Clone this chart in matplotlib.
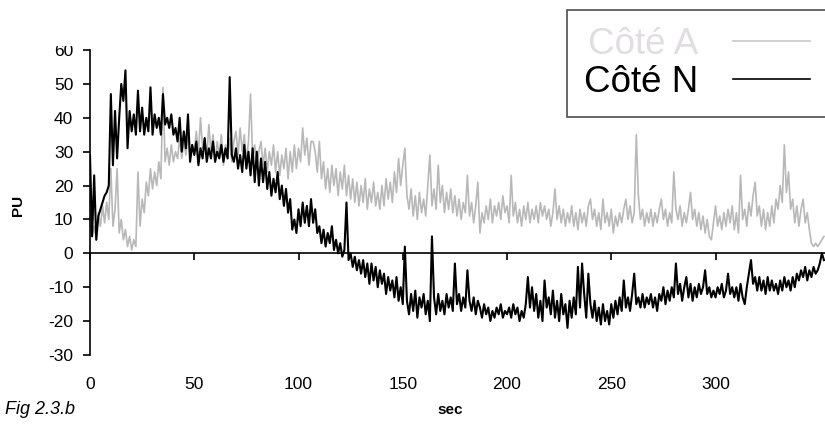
import matplotlib
matplotlib.use("Agg")
import matplotlib.pyplot as plt
import numpy as np
from matplotlib.lines import Line2D
from matplotlib.patches import Rectangle

plt.rcParams["font.family"] = ["Liberation Sans", "DejaVu Sans"]
plt.rcParams["axes.unicode_minus"] = False

cote_n = [
    29, 5, 23, 4, 11, 13, 15, 17, 18, 20,
    47, 26, 42, 28, 40, 50, 45, 54, 31, 42,
    36, 41, 35, 48, 36, 43, 35, 40, 36, 49,
    35, 41, 37, 40, 35, 47, 38, 40, 37, 41,
    35, 37, 33, 40, 30, 36, 31, 41, 27, 32,
    29, 33, 26, 31, 28, 34, 27, 31, 28, 33,
    27, 30, 28, 32, 27, 31, 28, 52, 29, 27,
    31, 25, 29, 24, 32, 25, 30, 23, 31, 21,
    30, 20, 28, 21, 27, 19, 24, 17, 22, 18,
    24, 16, 20, 14, 19, 12, 16, 7, 10, 6,
    13, 8, 15, 9, 14, 8, 16, 9, 13, 6,
    8, 3, 7, 2, 6, 3, 8, 1, 4, 0,
    3, -1, 1, 15, -2, 0, -4, -1, -5, -2,
    -6, -2, -7, -3, -9, -3, -8, -4, -10, -5,
    -9, -6, -12, -7, -11, -8, -13, -7, -14, -10,
    -15, 2, -14, -18, -12, -17, -11, -19, -13, -16,
    -12, -18, -14, -20, 5, -13, -18, -12, -17, -14,
    -18, -12, -16, -13, -17, -3, -15, -12, -17, -13,
    -16, -5, -14, -17, -13, -18, -14, -16, -19, -15,
    -18, -16, -20, -17, -19, -16, -18, -15, -19, -17,
    -18, -16, -19, -15, -18, -16, -20, -17, -19, -15,
    -7, -16, -10, -17, -12, -19, -14, -20, -8, -16,
    -13, -18, -11, -19, -14, -20, -12, -18, -15, -22,
    -14, -19, -13, -18, -4, -16, -3, -12, -19, -6,
    -15, -19, -14, -20, -16, -21, -15, -20, -17, -21,
    -15, -19, -14, -18, -13, -17, -8, -16, -13, -17,
    -12, -6, -15, -13, -16, -12, -16, -13, -15, -12,
    -16, -13, -17, -12, -14, -10, -15, -11, -14, -10,
    -13, -3, -12, -9, -14, -10, -7, -13, -9, -14,
    -10, -13, -9, -12, -10, -5, -12, -10, -13, -11,
    -13, -10, -12, -9, -13, -11, -6, -12, -10, -13,
    -10, -14, -9, -13, -15, -10, -6, -2, -9, -7,
    -11, -7, -11, -8, -12, -7, -11, -8, -11, -9,
    -12, -8, -11, -7, -10, -8, -11, -7, -10, -6,
    -8, -5, -7, -4, -8, -5, -7, -4, -6, -5,
    -3, 0, -2,
]

cote_a = [
    10, 5, 8, 4, 12, 8, 14, 9, 15, 10,
    25, 8, 13, 25, 6, 10, 4, 7, 2, 5,
    1, 4, 2, 24, 8, 16, 12, 21, 17, 25,
    19, 24, 20, 27, 22, 49, 27, 31, 26, 32,
    27, 30, 28, 34, 28, 33, 29, 35, 28, 32,
    30, 36, 29, 40, 31, 34, 28, 38, 30, 35,
    27, 33, 29, 35, 26, 32, 28, 34, 27, 33,
    36, 29, 37, 30, 35, 27, 33, 47, 28, 32,
    25, 30, 33, 26, 31, 24, 30, 26, 32, 24,
    30, 23, 29, 25, 31, 22, 30, 24, 32, 25,
    31, 27, 37, 29, 34, 26, 33, 33, 30, 24,
    33, 22, 27, 19, 25, 18, 26, 20, 25, 17,
    24, 19, 26, 17, 23, 16, 22, 15, 21, 14,
    20, 15, 22, 13, 19, 15, 21, 14, 18, 13,
    20, 14, 22, 16, 21, 15, 24, 18, 28, 20,
    26, 31, 17, 13, 19, 11, 17, 10, 18, 12,
    16, 11, 20, 29, 14, 19, 13, 26, 15, 20,
    12, 18, 13, 19, 12, 17, 11, 16, 10, 15,
    12, 23, 11, 15, 9, 14, 21, 6, 12, 9,
    14, 10, 16, 9, 14, 11, 15, 10, 17, 12,
    14, 9, 23, 11, 15, 9, 13, 8, 14, 10,
    15, 9, 13, 10, 14, 9, 15, 11, 14, 10,
    13, 8, 12, 19, 10, 14, 9, 13, 8, 12,
    9, 14, 8, 12, 7, 13, 9, 12, 8, 14,
    16, 10, 13, 8, 12, 7, 16, 9, 12, 8,
    13, 6, 11, 8, 12, 9, 13, 16, 10, 14,
    9, 12, 35, 17, 10, 13, 8, 12, 9, 13,
    8, 12, 9, 13, 16, 10, 13, 8, 12, 9,
    24, 13, 10, 14, 8, 12, 9, 13, 18, 10,
    13, 8, 12, 7, 11, 6, 10, 5, 4, 9,
    14, 8, 11, 7, 12, 8, 13, 9, 14, 7,
    12, 6, 23, 10, 13, 8, 15, 11, 17, 21,
    11, 14, 8, 13, 7, 12, 8, 14, 9, 16,
    13, 20, 15, 32, 18, 24, 13, 16, 9, 14,
    8, 13, 16, 9, 12, 7, 3, 2, 3, 2,
    3, 4, 5,
]

sec = np.arange(len(cote_n))
x_ticks = [0, 50, 100, 150, 200, 250, 300]
y_ticks = [-30, -20, -10, 0, 10, 20, 30, 40, 50, 60]

fig = plt.figure(figsize=(8.25, 4.25), dpi=100)
ax = fig.add_axes([90 / 825, 70 / 425, 735 / 825, 305 / 425])

ax.plot(sec, cote_a, color="#b8b8b8", lw=1.2, zorder=2)
ax.plot(sec, cote_n, color="black", lw=1.5, zorder=3)

ax.set_xlim(0, 352.5)
ax.set_ylim(-30, 60)
ax.set_xticks(x_ticks)
ax.set_yticks(y_ticks)

ax.spines["top"].set_visible(False)
ax.spines["right"].set_visible(False)
ax.spines["bottom"].set_position(("data", 0))
for s in ("left", "bottom"):
    ax.spines[s].set_linewidth(1.2)

ax.tick_params(axis="y", direction="out", length=5, width=1.2, pad=7,
               labelsize=12.5)
ax.tick_params(axis="x", direction="out", length=5, width=1.2, pad=84,
               labelsize=12.5)

fig.text(18 / 825, 1 - 205 / 425, "PU", fontsize=11, fontweight="bold",
         rotation=90, ha="center", va="center")
fig.text(450 / 825, 1 - 410 / 425, "sec", fontsize=11, fontweight="bold",
         ha="center", va="center")
fig.text(5 / 825, 1 - 410 / 425, "Fig 2.3.b", fontsize=13, style="italic",
         ha="left", va="center")

handles = [Line2D([], [], color="#c8c8c8", lw=1.2),
           Line2D([], [], color="black", lw=1.2)]
leg = ax.legend(handles, ["Côté A", "Côté N"], loc="upper left",
                bbox_to_anchor=(567 / 825, 1 - 10 / 425),
                bbox_transform=fig.transFigure,
                fontsize=26.5, markerfirst=False, frameon=True, fancybox=False,
                handlelength=2.1, handletextpad=0.95, borderpad=0.45,
                labelspacing=0.1, borderaxespad=0)
leg.get_frame().set_edgecolor("#333333")
leg.get_frame().set_linewidth(1.3)
leg.texts[0].set_color("#e2dde2")

# the top of the "60" label is cut off in the reference
fig.patches.append(Rectangle((0, 1 - 46 / 425), 88 / 825, 46 / 425,
                             transform=fig.transFigure, facecolor="white",
                             edgecolor="none", zorder=5))

fig.savefig("out.png", dpi=100)
